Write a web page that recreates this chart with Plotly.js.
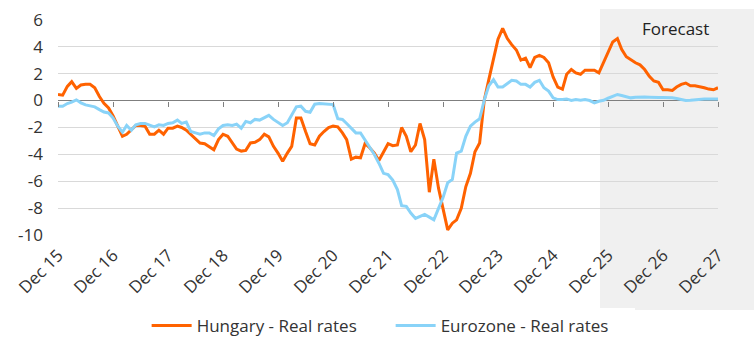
<!DOCTYPE html>
<html>
<head>
<meta charset="utf-8">
<script src="https://cdn.plot.ly/plotly-3.0.1.min.js"></script>
<style>html,body{margin:0;padding:0;background:#fff;}#chart{width:754px;height:356px;}</style>
</head>
<body>
<div id="chart"></div>
<script>
// Monthly series, Dec 2015 .. Dec 2027
var startYear = 2015, startMonth = 12, nMonths = 145;

var hungary = [
 0.45, 0.4, 1.05, 1.4, 0.9, 1.15, 1.2, 1.2, 0.95, 0.3, -0.2, -0.55,
 -1.15, -1.9, -2.65, -2.5, -2.15, -1.85, -1.85, -1.9, -2.5, -2.5, -2.2, -2.5,
 -2.05, -2.05, -1.9, -2.0, -2.2, -2.5, -2.85, -3.15, -3.2, -3.4, -3.65, -2.9,
 -2.5, -2.65, -3.15, -3.6, -3.75, -3.7, -3.15, -3.1, -2.9, -2.5, -2.7, -3.4,
 -3.9, -4.5, -3.9, -3.4, -1.3, -1.3, -2.3, -3.2, -3.3, -2.65, -2.3, -2.0,
 -1.9, -1.95, -2.4, -2.9, -4.35, -4.2, -4.25, -3.2, -3.5, -3.9, -4.45, -3.85,
 -3.2, -3.35, -3.3, -2.0, -2.65, -3.8, -3.3, -1.7, -2.9, -6.8, -4.35, -6.5,
 -8.0, -9.6, -9.1, -8.85, -8.0, -6.4, -5.4, -3.8, -3.15, 0.05, 1.55, 3.05,
 4.55, 5.35, 4.6, 4.15, 3.75, 3.0, 3.15, 2.45, 3.2, 3.35, 3.2, 2.8,
 1.75, 1.0, 0.85, 1.95, 2.3, 2.05, 1.95, 2.25, 2.25, 2.25, 2.05, 2.8,
 3.55, 4.35, 4.6, 3.8, 3.25, 3.0, 2.8, 2.65, 2.3, 1.8, 1.45, 1.35,
 0.8, 0.8, 0.75, 1.0, 1.2, 1.3, 1.1, 1.1, 1.05, 0.95, 0.85, 0.8,
 0.95
];

var eurozone = [
 -0.42, -0.42, -0.22, -0.12, 0.05, -0.17, -0.32, -0.42, -0.47, -0.67, -0.85, -0.92,
 -1.3, -1.9, -2.35, -1.85, -2.2, -1.8, -1.7, -1.7, -1.85, -1.95, -1.8, -1.85,
 -1.7, -1.65, -1.45, -1.7, -1.6, -2.3, -2.4, -2.5, -2.4, -2.4, -2.6, -2.1,
 -1.85, -1.8, -1.85, -1.75, -2.05, -1.55, -1.65, -1.4, -1.45, -1.3, -1.1, -1.4,
 -1.65, -1.85, -1.65, -1.05, -0.47, -0.42, -0.8, -0.87, -0.27, -0.22, -0.25, -0.25,
 -0.3, -1.35, -1.4, -1.7, -2.05, -2.4, -2.4, -2.9, -3.4, -4.0, -4.65, -5.4,
 -5.5, -5.9, -6.6, -7.8, -7.85, -8.35, -8.75, -8.6, -8.45, -8.65, -8.85, -8.0,
 -7.2, -6.1, -5.85, -3.9, -3.75, -2.65, -1.9, -1.6, -1.35, 0.05, 1.1, 1.55,
 1.0, 1.0, 1.25, 1.5, 1.45, 1.2, 1.2, 1.0, 1.35, 1.5, 0.95, 0.7,
 0.2, 0.07, 0.07, 0.12, 0.0, 0.07, 0.02, 0.07, 0.0, -0.17, -0.05, 0.02,
 0.17, 0.32, 0.45, 0.37, 0.27, 0.2, 0.25, 0.27, 0.27, 0.25, 0.22, 0.22,
 0.22, 0.22, 0.2, 0.15, 0.07, 0.0, 0.02, 0.07, 0.1, 0.12, 0.12, 0.12,
 0.12
];

var tickDates = ['2015-12-01','2016-12-01','2017-12-01','2018-12-01','2019-12-01','2020-12-01','2021-12-01','2022-12-01','2023-12-01','2024-12-01','2025-12-01','2026-12-01','2027-12-01'];
var tickLabels = ['Dec 15','Dec 16','Dec 17','Dec 18','Dec 19','Dec 20','Dec 21','Dec 22','Dec 23','Dec 24','Dec 25','Dec 26','Dec 27'];
var yTicks = [-10, -8, -6, -4, -2, 0, 2, 4, 6];

var seriesNames = ['Hungary - Real rates', 'Eurozone - Real rates'];
var forecastLabel = 'Forecast';

function pad(n){ return (n < 10 ? '0' : '') + n; }
var months = [];
for (var k = 0; k < nMonths; k++) {
  var m0 = (startMonth - 1) + k;
  var yy = startYear + Math.floor(m0 / 12);
  var mm = (m0 % 12) + 1;
  months.push(yy + '-' + pad(mm) + '-01');
}

var FONT = 'Open Sans, Noto Sans, sans-serif';
var yMin = -10.05, yMax = 6.05;
var zeroPos = (0 - yMin) / (yMax - yMin);

var traces = [
  {x: months, y: hungary, type: 'scatter', mode: 'lines', name: seriesNames[0],
   line: {color: '#FF6200', width: 3}, hoverinfo: 'x+y'},
  {x: months, y: eurozone, type: 'scatter', mode: 'lines', name: seriesNames[1],
   line: {color: '#89D3F8', width: 3}, hoverinfo: 'x+y'},
  {x: [], y: [], xaxis: 'x2', type: 'scatter', mode: 'lines', showlegend: false, hoverinfo: 'skip'}
];

var layout = {
  width: 754, height: 356,
  margin: {l: 58, r: 36, t: 19, b: 120},
  paper_bgcolor: '#ffffff',
  plot_bgcolor: 'rgba(0,0,0,0)',
  font: {family: FONT, size: 17, color: '#333333'},
  showlegend: true,
  legend: {orientation: 'h', x: 0.504, xanchor: 'center', y: -0.415, yanchor: 'middle',
           font: {family: FONT, size: 17, color: '#333333'}, itemwidth: 40,
           entrywidth: 189, entrywidthmode: 'pixels', traceorder: 'normal'},
  xaxis: {
    type: 'date', range: ['2015-12-01', '2027-12-01'],
    tickmode: 'array', tickvals: tickDates, ticktext: tickLabels,
    tickangle: -45, showgrid: false, zeroline: false, showline: false,
    ticks: '', ticklabelstandoff: 5, tickfont: {family: FONT, size: 17, color: '#333333'},
    fixedrange: true
  },
  xaxis2: {
    type: 'date', range: ['2015-12-01', '2027-12-01'], overlaying: 'x',
    anchor: 'free', position: zeroPos, side: 'bottom',
    tickmode: 'array', tickvals: tickDates, showticklabels: false,
    ticks: 'outside', ticklen: 5, tickwidth: 1, tickcolor: '#7f7f7f',
    showgrid: false, zeroline: false, showline: false
  },
  yaxis: {
    range: [yMin, yMax], tickmode: 'array', tickvals: yTicks,
    ticktext: yTicks.map(String),
    showgrid: true, gridcolor: '#d9d9d9', gridwidth: 1,
    zeroline: true, zerolinecolor: '#7f7f7f', zerolinewidth: 1.5,
    showline: false, ticks: '', ticklabelstandoff: 14,
    tickfont: {family: FONT, size: 17, color: '#333333'},
    fixedrange: true
  },
  shapes: [
    {type: 'rect', xref: 'paper', yref: 'paper',
     x0: (600 - 58) / 660, x1: (754 - 58) / 660,
     y0: (236 - 310) / 217, y1: (236 - 9) / 217,
     fillcolor: '#f0f0f0', line: {width: 0}, layer: 'below'}
  ],
  annotations: [
    {text: forecastLabel, xref: 'paper', yref: 'paper',
     x: (711 - 58) / 660, xanchor: 'right', y: (236 - 28) / 217, yanchor: 'middle',
     showarrow: false, font: {family: FONT, size: 17, color: '#222222'}}
  ]
};

Plotly.newPlot('chart', traces, layout, {displayModeBar: false, staticPlot: true});
</script>
</body>
</html>
